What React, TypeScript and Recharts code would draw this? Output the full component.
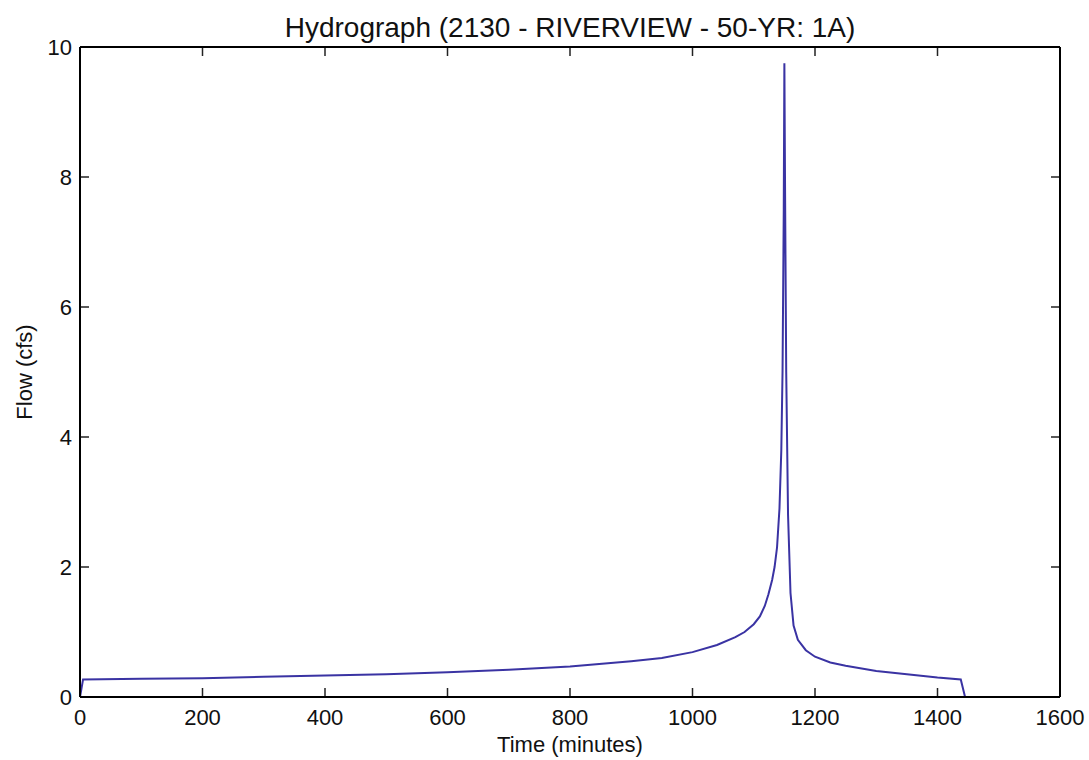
import React from "react";
import { LineChart, Line, XAxis, YAxis, ReferenceLine } from "recharts";

const times = [0, 5, 100, 200, 300, 400, 500, 600, 700, 800, 900, 950, 1000, 1040, 1070, 1085, 1100, 1110, 1118, 1124, 1130, 1134, 1138, 1142, 1145, 1147, 1149, 1150, 1151, 1153, 1156, 1160, 1165, 1172, 1185, 1200, 1225, 1250, 1300, 1350, 1400, 1438, 1445];
const flows = [0, 0.27, 0.28, 0.29, 0.31, 0.33, 0.35, 0.38, 0.42, 0.47, 0.55, 0.6, 0.69, 0.8, 0.92, 1.0, 1.12, 1.24, 1.4, 1.58, 1.8, 2.0, 2.3, 2.9, 3.8, 5.0, 7.5, 9.75, 8.0, 5.0, 2.8, 1.6, 1.1, 0.88, 0.72, 0.62, 0.53, 0.48, 0.4, 0.35, 0.3, 0.27, 0];
const xTicks = [0, 200, 400, 600, 800, 1000, 1200, 1400, 1600];
const yTicks = [0, 2, 4, 6, 8, 10];

const data = times.map((t, i) => ({ t, q: flows[i] }));

const FONT = "'Liberation Sans', Arial, sans-serif";
const TS = -8;
const TC = "#222";
const TW = 1.5;
// tick mark lengths expressed in axis units (about 9px each)
const X_MIN = 0, X_MAX = 1600, Y_MIN = 0, Y_MAX = 10;
const TICK_DY = (Y_MAX - Y_MIN) * (9 / 650);
const TICK_DX = (X_MAX - X_MIN) * (9 / 980);

const BottomTick = (p: any) => (
  <text x={p.x} y={p.y + 8 + 28} textAnchor="middle" fontSize={22} fontFamily={FONT} fill="#111">
    {p.payload.value}
  </text>
);
const LeftTick = (p: any) => (
  <text x={p.x - 16} y={p.y + 8} textAnchor="end" fontSize={22} fontFamily={FONT} fill="#111">
    {p.payload.value}
  </text>
);

const lineStyle = { stroke: "#000", strokeWidth: 2 };

export default function App() {
  return (
    <div style={{ position: "relative", width: 1089, height: 760, background: "#fff" }}>
      <style>{`html, body { margin: 0; padding: 0; }`}</style>
      <div
        style={{
          position: "absolute",
          left: 80,
          width: 980,
          top: 11,
          textAlign: "center",
          fontFamily: FONT,
          fontSize: 28,
          lineHeight: "34px",
          color: "#111",
        }}
      >
        Hydrograph (2130 - RIVERVIEW - 50-YR: 1A)
      </div>
      <div
        style={{
          position: "absolute",
          left: 80,
          width: 980,
          top: 731,
          textAlign: "center",
          fontFamily: FONT,
          fontSize: 22,
          lineHeight: "28px",
          color: "#111",
        }}
      >
        Time (minutes)
      </div>
      <div
        style={{
          position: "absolute",
          left: 25 - 150,
          width: 300,
          top: 372 - 14,
          height: 28,
          textAlign: "center",
          fontFamily: FONT,
          fontSize: 22,
          lineHeight: "28px",
          color: "#111",
          transform: "rotate(-90deg)",
        }}
      >
        Flow (cfs)
      </div>
      <LineChart
        width={1089}
        height={760}
        data={data}
        style={{ position: "absolute", left: 0, top: 0 }}
        margin={{ top: 46, right: 28, bottom: 0, left: 0 }}
      >
        <XAxis
          xAxisId="b"
          dataKey="t"
          type="number"
          domain={[X_MIN, X_MAX]}
          ticks={xTicks}
          height={63}
          tickSize={TS}
          tickMargin={0}
          tickLine={false}
          axisLine={lineStyle}
          tick={<BottomTick />}
          interval={0}
        />
        <XAxis
          xAxisId="t"
          orientation="top"
          dataKey="t"
          type="number"
          domain={[X_MIN, X_MAX]}
          ticks={xTicks}
          height={1}
          tickLine={false}
          axisLine={lineStyle}
          tick={false}
        />
        <YAxis
          yAxisId="l"
          type="number"
          domain={[Y_MIN, Y_MAX]}
          ticks={yTicks}
          width={80}
          tickSize={TS}
          tickMargin={0}
          tickLine={false}
          axisLine={lineStyle}
          tick={<LeftTick />}
          interval={0}
        />
        <YAxis
          yAxisId="r"
          orientation="right"
          type="number"
          domain={[Y_MIN, Y_MAX]}
          ticks={yTicks}
          width={1}
          tickLine={false}
          axisLine={lineStyle}
          tick={false}
        />
        {xTicks.map((v) => (
          <ReferenceLine
            key={"xb" + v}
            xAxisId="b"
            yAxisId="l"
            segment={[{ x: v, y: Y_MIN }, { x: v, y: Y_MIN + TICK_DY }]}
            stroke={TC}
            strokeWidth={TW}
            ifOverflow="visible"
          />
        ))}
        {xTicks.map((v) => (
          <ReferenceLine
            key={"xt" + v}
            xAxisId="b"
            yAxisId="l"
            segment={[{ x: v, y: Y_MAX }, { x: v, y: Y_MAX - TICK_DY }]}
            stroke={TC}
            strokeWidth={TW}
            ifOverflow="visible"
          />
        ))}
        {yTicks.map((v) => (
          <ReferenceLine
            key={"yl" + v}
            xAxisId="b"
            yAxisId="l"
            segment={[{ x: X_MIN, y: v }, { x: X_MIN + TICK_DX, y: v }]}
            stroke={TC}
            strokeWidth={TW}
            ifOverflow="visible"
          />
        ))}
        {yTicks.map((v) => (
          <ReferenceLine
            key={"yr" + v}
            xAxisId="b"
            yAxisId="l"
            segment={[{ x: X_MAX, y: v }, { x: X_MAX - TICK_DX, y: v }]}
            stroke={TC}
            strokeWidth={TW}
            ifOverflow="visible"
          />
        ))}
        <Line
          xAxisId="b"
          yAxisId="l"
          type="linear"
          dataKey="q"
          stroke="#3a33a3"
          strokeWidth={2}
          dot={false}
          isAnimationActive={false}
        />
      </LineChart>
    </div>
  );
}
